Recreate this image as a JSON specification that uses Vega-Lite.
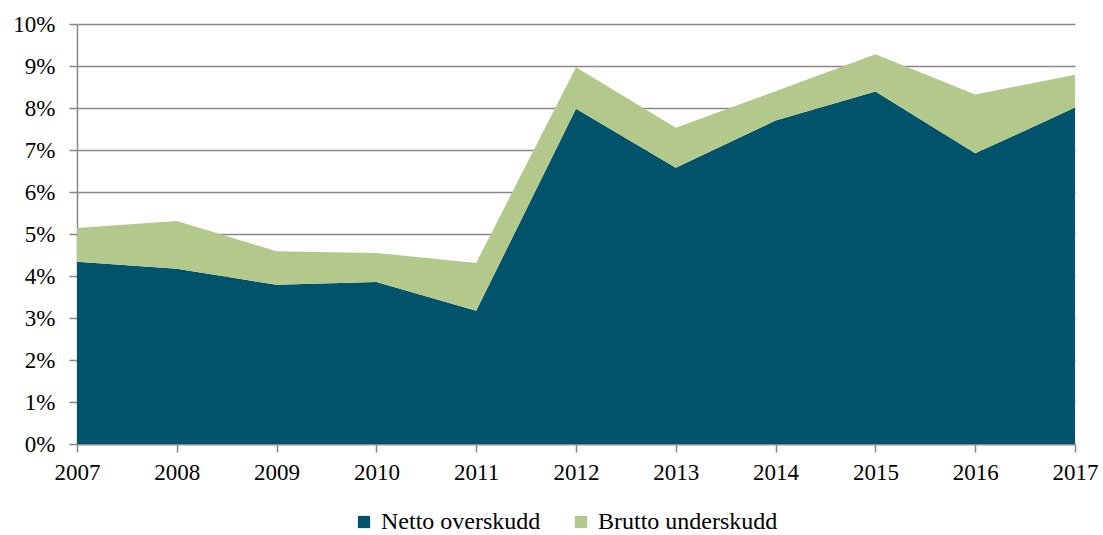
{
  "$schema": "https://vega.github.io/schema/vega-lite/v6.json",
  "autosize": {"type": "none"},
  "padding": {"left": 77, "top": 24, "right": 28, "bottom": 91},
  "width": 998,
  "height": 420,
  "background": "white",
  "config": {
    "view": {"stroke": null},
    "font": "Liberation Serif",
    "axis": {"labelFont": "Liberation Serif", "labelColor": "#000000", "labelFontSize": 23, "domainColor": "#878787", "tickColor": "#878787", "domainWidth": 1.5, "tickWidth": 1.5, "title": null},
    "legend": {"labelFont": "Liberation Serif", "labelFontSize": 24, "labelColor": "#000000", "labelLimit": 400}
  },
  "data": {
    "values": [
      {"year": 2007, "series": "Netto overskudd", "value": 4.34},
      {"year": 2008, "series": "Netto overskudd", "value": 4.17},
      {"year": 2009, "series": "Netto overskudd", "value": 3.79},
      {"year": 2010, "series": "Netto overskudd", "value": 3.86},
      {"year": 2011, "series": "Netto overskudd", "value": 3.17},
      {"year": 2012, "series": "Netto overskudd", "value": 7.98},
      {"year": 2013, "series": "Netto overskudd", "value": 6.58},
      {"year": 2014, "series": "Netto overskudd", "value": 7.70},
      {"year": 2015, "series": "Netto overskudd", "value": 8.39},
      {"year": 2016, "series": "Netto overskudd", "value": 6.92},
      {"year": 2017, "series": "Netto overskudd", "value": 8.01},
      {"year": 2007, "series": "Brutto underskudd", "value": 0.80},
      {"year": 2008, "series": "Brutto underskudd", "value": 1.14},
      {"year": 2009, "series": "Brutto underskudd", "value": 0.80},
      {"year": 2010, "series": "Brutto underskudd", "value": 0.69},
      {"year": 2011, "series": "Brutto underskudd", "value": 1.14},
      {"year": 2012, "series": "Brutto underskudd", "value": 0.99},
      {"year": 2013, "series": "Brutto underskudd", "value": 0.95},
      {"year": 2014, "series": "Brutto underskudd", "value": 0.70},
      {"year": 2015, "series": "Brutto underskudd", "value": 0.89},
      {"year": 2016, "series": "Brutto underskudd", "value": 1.40},
      {"year": 2017, "series": "Brutto underskudd", "value": 0.78}
    ]
  },
  "mark": {"type": "area", "opacity": 1},
  "encoding": {
    "x": {
      "field": "year", "type": "quantitative",
      "scale": {"domain": [2007, 2017], "nice": false, "zero": false},
      "axis": {"values": [2007, 2008, 2009, 2010, 2011, 2012, 2013, 2014, 2015, 2016, 2017], "format": "d", "grid": false, "tickSize": 8, "labelPadding": 9, "labelFlush": false, "labelOverlap": false}
    },
    "y": {
      "field": "value", "type": "quantitative", "stack": "zero",
      "scale": {"domain": [0, 10], "nice": false},
      "axis": {"values": [0, 1, 2, 3, 4, 5, 6, 7, 8, 9, 10], "labelExpr": "datum.value + '%'", "grid": true, "gridColor": "#878787", "gridWidth": 1.5, "gridOpacity": 1, "tickSize": 8, "labelPadding": 14}
    },
    "color": {
      "field": "series", "type": "nominal",
      "scale": {"domain": ["Netto overskudd", "Brutto underskudd"], "range": ["#00536b", "#b3c98c"]},
      "legend": {"title": null, "orient": "none", "direction": "horizontal", "legendX": 275, "legendY": 486, "symbolType": "square", "symbolSize": 150, "symbolStrokeWidth": 0, "symbolOpacity": 1, "columnPadding": 28, "labelOffset": 5}
    },
    "order": {"field": "series", "sort": "descending"}
  }
}
